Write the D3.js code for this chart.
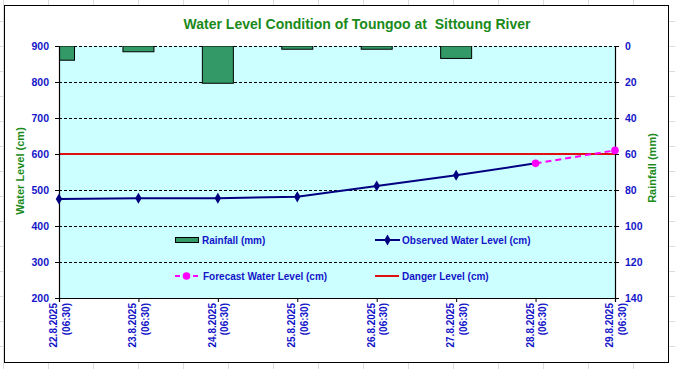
<!DOCTYPE html>
<html><head><meta charset="utf-8">
<script src="https://cdn.jsdelivr.net/npm/d3@7"></script>
<style>body{margin:0;background:#fff;}svg{display:block;font-family:"Liberation Sans",Arial,sans-serif;}</style>
</head><body><svg id="c" width="675" height="369"></svg>
<script>
const dates = ["22.8.2025","23.8.2025","24.8.2025","25.8.2025","26.8.2025","27.8.2025","28.8.2025","29.8.2025"];
const timeLabel = "(06:30)";
const rainfall = [7.9, 3.2, 20.7, 1.8, 1.8, 6.9, 0, 0];
const observed = [475, 477, 477, 481, 511, 541, 574, null];
const forecast = [null, null, null, null, null, null, 574, 610];
const dangerLevel = 600;
const leftTicks = [200,300,400,500,600,700,800,900];
const rightTicks = [0,20,40,60,80,100,120,140];

const svg = d3.select("#c");
const blue = "#1414c8", green = "#1a8a1a";

// spreadsheet grid background
const bg = svg.append("g");
d3.range(3, 676, 45).forEach(x => bg.append("line").attr("x1",x+0.5).attr("x2",x+0.5).attr("y1",0).attr("y2",369).attr("stroke","#dcdcdc"));
d3.range(21, 369, 25).forEach(y => bg.append("line").attr("x1",0).attr("x2",675).attr("y1",y+0.5).attr("y2",y+0.5).attr("stroke","#dcdcdc"));

// chart box
svg.append("rect").attr("x",4.5).attr("y",5.5).attr("width",664).attr("height",357).attr("fill","#fff").attr("stroke","#000").attr("stroke-width",1);

const L = 59, R = 615, T = 46, B = 298;
const x = d3.scalePoint().domain(dates).range([L, R]);
const y = d3.scaleLinear().domain([200, 900]).range([B, T]);
const yR = d3.scaleLinear().domain([0, 140]).range([T, B]);

svg.append("rect").attr("x",L).attr("y",T).attr("width",R-L).attr("height",B-T).attr("fill","#ccffff");

// gridlines
svg.append("g").selectAll("line").data(leftTicks.filter(d=>d>200)).join("line")
  .attr("x1",L).attr("x2",R).attr("y1",d=>Math.round(y(d))+0.5).attr("y2",d=>Math.round(y(d))+0.5)
  .attr("stroke","#000").attr("stroke-dasharray","3,2").attr("stroke-width",1);

// rainfall bars
const bw = 31;
svg.append("clipPath").attr("id","pc").append("rect").attr("x",L).attr("y",T).attr("width",R-L).attr("height",B-T);
svg.append("g").attr("clip-path","url(#pc)").selectAll("rect").data(dates.map((d,i)=>({d,v:rainfall[i]})).filter(o=>o.v>0)).join("rect")
  .attr("x",o=>x(o.d)-bw/2).attr("y",yR(0)).attr("width",bw).attr("height",o=>yR(o.v)-yR(0))
  .attr("fill","#339966").attr("stroke","#000").attr("stroke-width",1);

// danger line
svg.append("line").attr("x1",L).attr("x2",R).attr("y1",y(dangerLevel)).attr("y2",y(dangerLevel)).attr("stroke","#e01010").attr("stroke-width",2);

// axes
const axL = svg.append("g").attr("transform",`translate(${L},0)`).call(d3.axisLeft(y).tickValues(leftTicks).tickSize(4).tickPadding(6));
const axR = svg.append("g").attr("transform",`translate(${R},0)`).call(d3.axisRight(yR).tickValues(rightTicks).tickSize(4).tickPadding(6));
const axB = svg.append("g").attr("transform",`translate(0,${B})`).call(d3.axisBottom(x).tickSize(4).tickFormat(""));
[axL,axR,axB].forEach(a=>{a.select(".domain").attr("stroke","#000").attr("stroke-width",1.2);a.selectAll(".tick line").attr("stroke","#000");
  a.selectAll("text").attr("fill",blue).attr("font-size",10.5).attr("font-weight","bold").attr("font-family","Liberation Sans, Arial, sans-serif");});

// x labels rotated
const xl = svg.append("g");
dates.forEach(d=>{
  const cx = x(d);
  xl.append("text").attr("transform",`translate(${cx-2},303) rotate(-90)`).attr("text-anchor","end")
    .attr("fill",blue).attr("font-size",10).attr("font-weight","bold").text(d);
  xl.append("text").attr("transform",`translate(${cx+10.5},303) rotate(-90)`).attr("text-anchor","end")
    .attr("fill",blue).attr("font-size",10).attr("font-weight","bold").text(timeLabel);
});

// observed line
const obsData = dates.map((d,i)=>({d,v:observed[i]})).filter(o=>o.v!=null);
const line = d3.line().x(o=>x(o.d)).y(o=>y(o.v));
svg.append("path").datum(obsData).attr("d",line).attr("fill","none").attr("stroke","#000080").attr("stroke-width",2);
const diamond = d3.symbol().type(d3.symbolDiamond).size(36);
svg.append("g").selectAll("path").data(obsData.slice(0,-1)).join("path")
  .attr("transform",o=>`translate(${x(o.d)},${y(o.v)})`).attr("d",diamond).attr("fill","#000080");

// forecast
const fcData = dates.map((d,i)=>({d,v:forecast[i]})).filter(o=>o.v!=null);
svg.append("path").datum(fcData).attr("d",line).attr("fill","none").attr("stroke","#ff00ff").attr("stroke-width",2).attr("stroke-dasharray","6,4");
svg.append("g").selectAll("circle").data(fcData).join("circle")
  .attr("cx",o=>x(o.d)).attr("cy",o=>y(o.v)).attr("r",3.8).attr("fill","#ff00ff");

// legend
const lg = svg.append("g").attr("font-size",10).attr("font-weight","bold").attr("fill",blue);
lg.append("rect").attr("x",175.5).attr("y",237.5).attr("width",23).attr("height",5).attr("fill","#339966").attr("stroke","#000");
lg.append("text").attr("x",202).attr("y",244).text("Rainfall (mm)");
lg.append("line").attr("x1",375).attr("x2",400).attr("y1",240).attr("y2",240).attr("stroke","#000080").attr("stroke-width",2);
lg.append("path").attr("transform","translate(387.5,240)").attr("d",diamond).attr("fill","#000080");
lg.append("text").attr("x",402).attr("y",244).text("Observed Water Level (cm)");
lg.append("line").attr("x1",175).attr("x2",198).attr("y1",276).attr("y2",276).attr("stroke","#ff00ff").attr("stroke-width",2).attr("stroke-dasharray","5,4");
lg.append("circle").attr("cx",186.5).attr("cy",276).attr("r",3.8).attr("fill","#ff00ff");
lg.append("text").attr("x",203).attr("y",280).text("Forecast Water Level (cm)");
lg.append("line").attr("x1",375).attr("x2",399).attr("y1",276).attr("y2",276).attr("stroke","#e01010").attr("stroke-width",2);
lg.append("text").attr("x",402).attr("y",280).text("Danger Level (cm)");

// titles
svg.append("text").attr("x",357).attr("y",29).attr("text-anchor","middle").attr("font-size",14).attr("font-weight","bold").attr("fill",green)
  .attr("xml:space","preserve").text("Water Level Condition of Toungoo at  Sittoung River");
svg.append("text").attr("transform","translate(24,171) rotate(-90)").attr("text-anchor","middle").attr("font-size",11).attr("font-weight","bold").attr("fill",green).text("Water Level (cm)");
svg.append("text").attr("transform","translate(656,168) rotate(-90)").attr("text-anchor","middle").attr("font-size",11).attr("font-weight","bold").attr("fill",green).text("Rainfall (mm)");
</script></body></html>
